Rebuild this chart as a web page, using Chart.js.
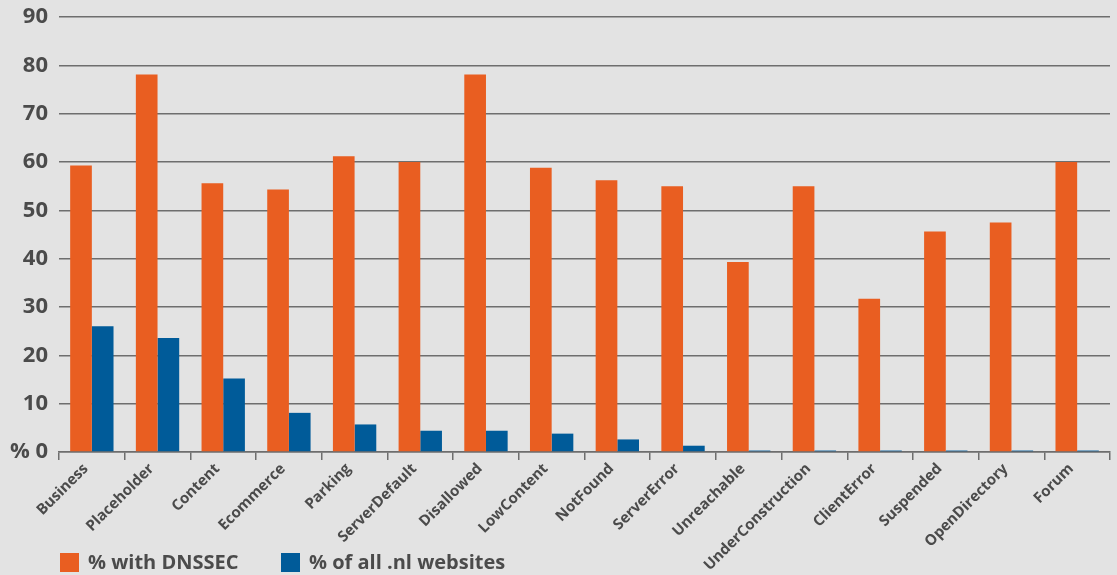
<!DOCTYPE html>
<html>
<head>
<meta charset="utf-8">
<script src="https://cdn.jsdelivr.net/npm/chart.js@4"></script>
<style>
	html, body { margin: 0; padding: 0; background: #e3e3e3; }
	#wrap { width: 1117px; height: 575px; position: relative; }
</style>
</head>
<body>
<div id="wrap"><canvas id="dnssec-chart"></canvas></div>
<script>
const categories = ["Business", "Placeholder", "Content", "Ecommerce", "Parking", "ServerDefault", "Disallowed", "LowContent",
	"NotFound", "ServerError", "Unreachable", "UnderConstruction", "ClientError", "Suspended", "OpenDirectory", "Forum"];
const withDnssec = [59.3, 78.1, 55.6, 54.3, 61.2, 60.0, 78.1, 58.8, 56.2, 55.0, 39.3, 55.0, 31.7, 45.6, 47.5, 60.0];
const allNl = [26.0, 23.6, 15.2, 8.1, 5.7, 4.4, 4.4, 3.8, 2.6, 1.3, 0.3, 0.3, 0.3, 0.3, 0.3, 0.3];
const seriesNames = ["% with DNSSEC", "% of all .nl websites"];
const yTicks = [0, 10, 20, 30, 40, 50, 60, 70, 80, 90];

const orange = "#e95e21";
const blue = "#005b99";
const textColor = "#4b4b4b";
const fontFamily = "'Open Sans', 'Noto Sans', sans-serif";

Chart.defaults.font.family = fontFamily;
Chart.defaults.color = textColor;

// legend drawn by hand so it can sit flush with the plot's left edge
const bottomKey = {
	id: "bottomKey",
	afterDraw(chart) {
		const ctx = chart.ctx;
		const positions = [60, 281];
		ctx.save();
		ctx.font = `700 20px ${fontFamily}`;
		ctx.textBaseline = "middle";
		chart.data.datasets.forEach((ds, i) => {
			const x = positions[i];
			ctx.fillStyle = ds.backgroundColor;
			ctx.fillRect(x, 553, 19, 19);
			ctx.fillStyle = textColor;
			ctx.fillText(ds.label, x + 28, 563);
		});
		ctx.restore();
	}
};

new Chart(document.getElementById("dnssec-chart"), {
	type: "bar",
	data: {
		labels: categories,
		datasets: [
			{ label: seriesNames[0], data: withDnssec, backgroundColor: orange },
			{ label: seriesNames[1], data: allNl, backgroundColor: blue }
		]
	},
	options: {
		responsive: true,
		maintainAspectRatio: false,
		animation: false,
		layout: { padding: { top: 17, right: 7, bottom: 0, left: 0 } },
		categoryPercentage: 0.66,
		barPercentage: 1.0,
		plugins: {
			legend: { display: false },
			tooltip: { enabled: false }
		},
		scales: {
			x: {
				offset: true,
				grid: { drawOnChartArea: false, drawTicks: true, tickLength: 8, color: "#6e6e6e", lineWidth: 1.5, offset: true },
				border: { display: true, color: "#6e6e6e", width: 1.5 },
				ticks: {
					autoSkip: false,
					minRotation: 45,
					maxRotation: 45,
					padding: 0,
					labelOffset: -6,
					font: { size: 15, weight: "700" },
					color: textColor
				},
				afterFit: scale => { scale.height = 123; }
			},
			y: {
				min: 0,
				max: 90,
				afterBuildTicks: scale => { scale.ticks = yTicks.map(v => ({ value: v })); },
				grid: { drawTicks: false, color: "#6e6e6e", lineWidth: 1.5 },
				border: { display: false },
				ticks: {
					padding: 11,
					font: { size: 22, weight: "700" },
					color: textColor,
					callback: value => value === 0 ? "% 0" : value
				},
				afterFit: scale => {
					scale.width = 59;
					// keep the label half-heights from pushing the plot area down
					scale.paddingTop = 6;
					scale.paddingBottom = 6;
				}
			}
		}
	},
	plugins: [bottomKey]
});
</script>
</body>
</html>
